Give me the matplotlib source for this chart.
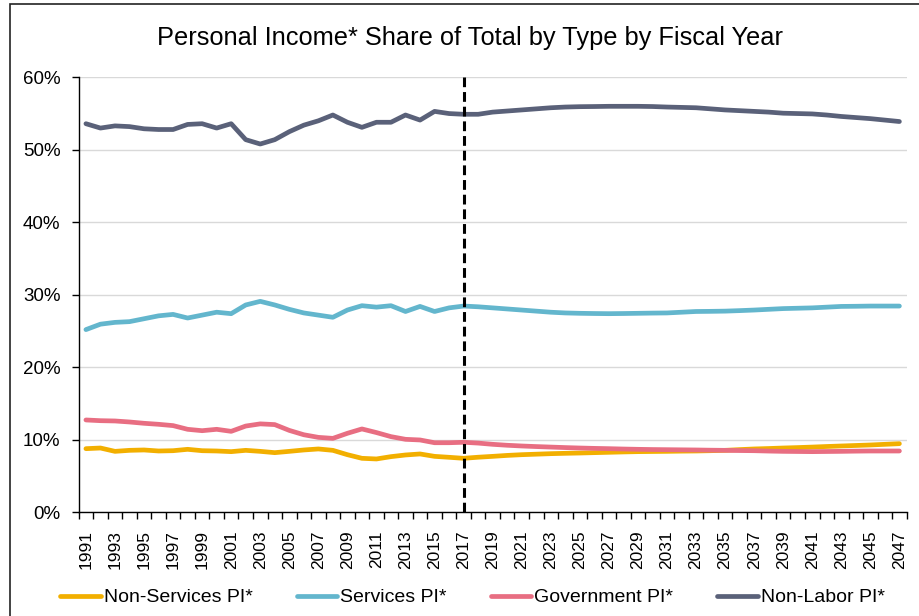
import matplotlib
matplotlib.use("Agg")
import matplotlib.pyplot as plt
from matplotlib.patches import Rectangle
from matplotlib.ticker import FuncFormatter, MultipleLocator
import numpy as np

plt.rcParams['font.family'] = ['Liberation Sans', 'DejaVu Sans']

years = list(range(1991, 2048))
labels = ["Non-Services PI*", "Services PI*", "Government PI*", "Non-Labor PI*"]
colors = ["#F2AF00", "#63B6CD", "#E86E82", "#5A6179"]

non_services = [8.78, 8.87, 8.41, 8.55, 8.60, 8.46, 8.50, 8.69, 8.50, 8.46,
                8.37, 8.55, 8.41, 8.23, 8.41, 8.60, 8.74, 8.55, 7.95, 7.45,
                7.36, 7.68, 7.91, 8.05, 7.72, 7.59, 7.45, 7.60, 7.72, 7.85,
                7.95, 8.02, 8.09, 8.14, 8.18, 8.23, 8.28, 8.33, 8.37, 8.39,
                8.41, 8.44, 8.46, 8.50, 8.55, 8.65, 8.74, 8.80, 8.87, 8.93,
                9.00, 9.08, 9.15, 9.22, 9.29, 9.38, 9.47]
services = [25.20, 25.95, 26.20, 26.30, 26.70, 27.10, 27.30, 26.80, 27.20, 27.60,
            27.40, 28.60, 29.10, 28.60, 28.00, 27.50, 27.20, 26.90, 27.90, 28.50,
            28.30, 28.50, 27.70, 28.40, 27.70, 28.20, 28.45, 28.35, 28.20, 28.05,
            27.90, 27.75, 27.60, 27.50, 27.45, 27.42, 27.40, 27.42, 27.45, 27.48,
            27.50, 27.60, 27.70, 27.72, 27.75, 27.82, 27.90, 28.00, 28.10, 28.15,
            28.20, 28.30, 28.40, 28.42, 28.45, 28.45, 28.45]
government = [12.74, 12.64, 12.60, 12.46, 12.28, 12.14, 11.96, 11.45, 11.26, 11.45,
              11.17, 11.90, 12.20, 12.10, 11.30, 10.70, 10.34, 10.20, 10.90, 11.50,
              11.00, 10.44, 10.07, 9.98, 9.60, 9.60, 9.66, 9.55, 9.38, 9.25,
              9.15, 9.07, 9.00, 8.93, 8.87, 8.82, 8.78, 8.73, 8.69, 8.66,
              8.64, 8.62, 8.60, 8.57, 8.55, 8.52, 8.50, 8.45, 8.41, 8.39,
              8.37, 8.39, 8.41, 8.44, 8.46, 8.46, 8.46]
non_labor = [53.60, 53.00, 53.30, 53.20, 52.90, 52.80, 52.80, 53.50, 53.60, 53.00,
             53.60, 51.40, 50.80, 51.40, 52.50, 53.40, 54.00, 54.80, 53.80, 53.10,
             53.80, 53.80, 54.80, 54.10, 55.30, 55.00, 54.90, 54.90, 55.20, 55.35,
             55.50, 55.65, 55.80, 55.90, 55.95, 55.97, 56.00, 56.00, 56.00, 55.97,
             55.90, 55.85, 55.80, 55.65, 55.50, 55.40, 55.30, 55.20, 55.05, 55.00,
             54.95, 54.80, 54.60, 54.45, 54.30, 54.10, 53.90]
forecast_start = 2017
title = "Personal Income* Share of Total by Type by Fiscal Year"

series = [non_services, services, government, non_labor]

fig = plt.figure(figsize=(9.2, 6.16), dpi=100)
ax = fig.add_axes([0.0855, 0.1683, 0.9000, 0.7062])

for vals, lab, col in zip(series, labels, colors):
    ax.plot(years, vals, color=col, lw=3.4, label=lab,
            solid_capstyle='round', solid_joinstyle='round')

ax.axvline(forecast_start, color='black', lw=2.2, ls=(0, (3.2, 1.6)), zorder=5)

ax.set_xlim(1990.5, 2047.5)
ax.set_ylim(0, 60)
ax.yaxis.set_major_locator(MultipleLocator(10))
ax.yaxis.set_major_formatter(FuncFormatter(lambda v, p: f"{v:.0f}%"))
ax.set_xticks(years[::2])
ax.set_xticklabels([str(y) for y in years[::2]], rotation=90, fontsize=12.5)
ax.set_xticks(np.arange(1990.5, 2048, 1), minor=True)
ax.tick_params(axis='x', which='major', length=0, pad=13)
ax.tick_params(axis='x', which='minor', length=5, width=1, direction='out')
ax.tick_params(axis='y', labelsize=13.5, length=5, width=1, direction='out', pad=8)
ax.grid(axis='y', color='#d9d9d9', lw=1)
ax.set_axisbelow(True)
for s in ['top', 'right']:
    ax.spines[s].set_visible(False)
for s in ['left', 'bottom']:
    ax.spines[s].set_linewidth(1)
    ax.spines[s].set_color('black')

fig.text(0.511, 0.938, title, ha='center', va='center', fontsize=18.3)

fig.legend(loc='center', bbox_to_anchor=(0.5136, 0.030), ncol=4, frameon=False,
           fontsize=14, handlelength=2.1, handletextpad=0.15, columnspacing=2.25)

fig.patches.append(Rectangle((10/920, -0.1), 1.2, 1 - 4.5/616 + 0.1,
                             transform=fig.transFigure, fill=False,
                             edgecolor='#222222', lw=1.2))

fig.savefig("out.png", dpi=100)
